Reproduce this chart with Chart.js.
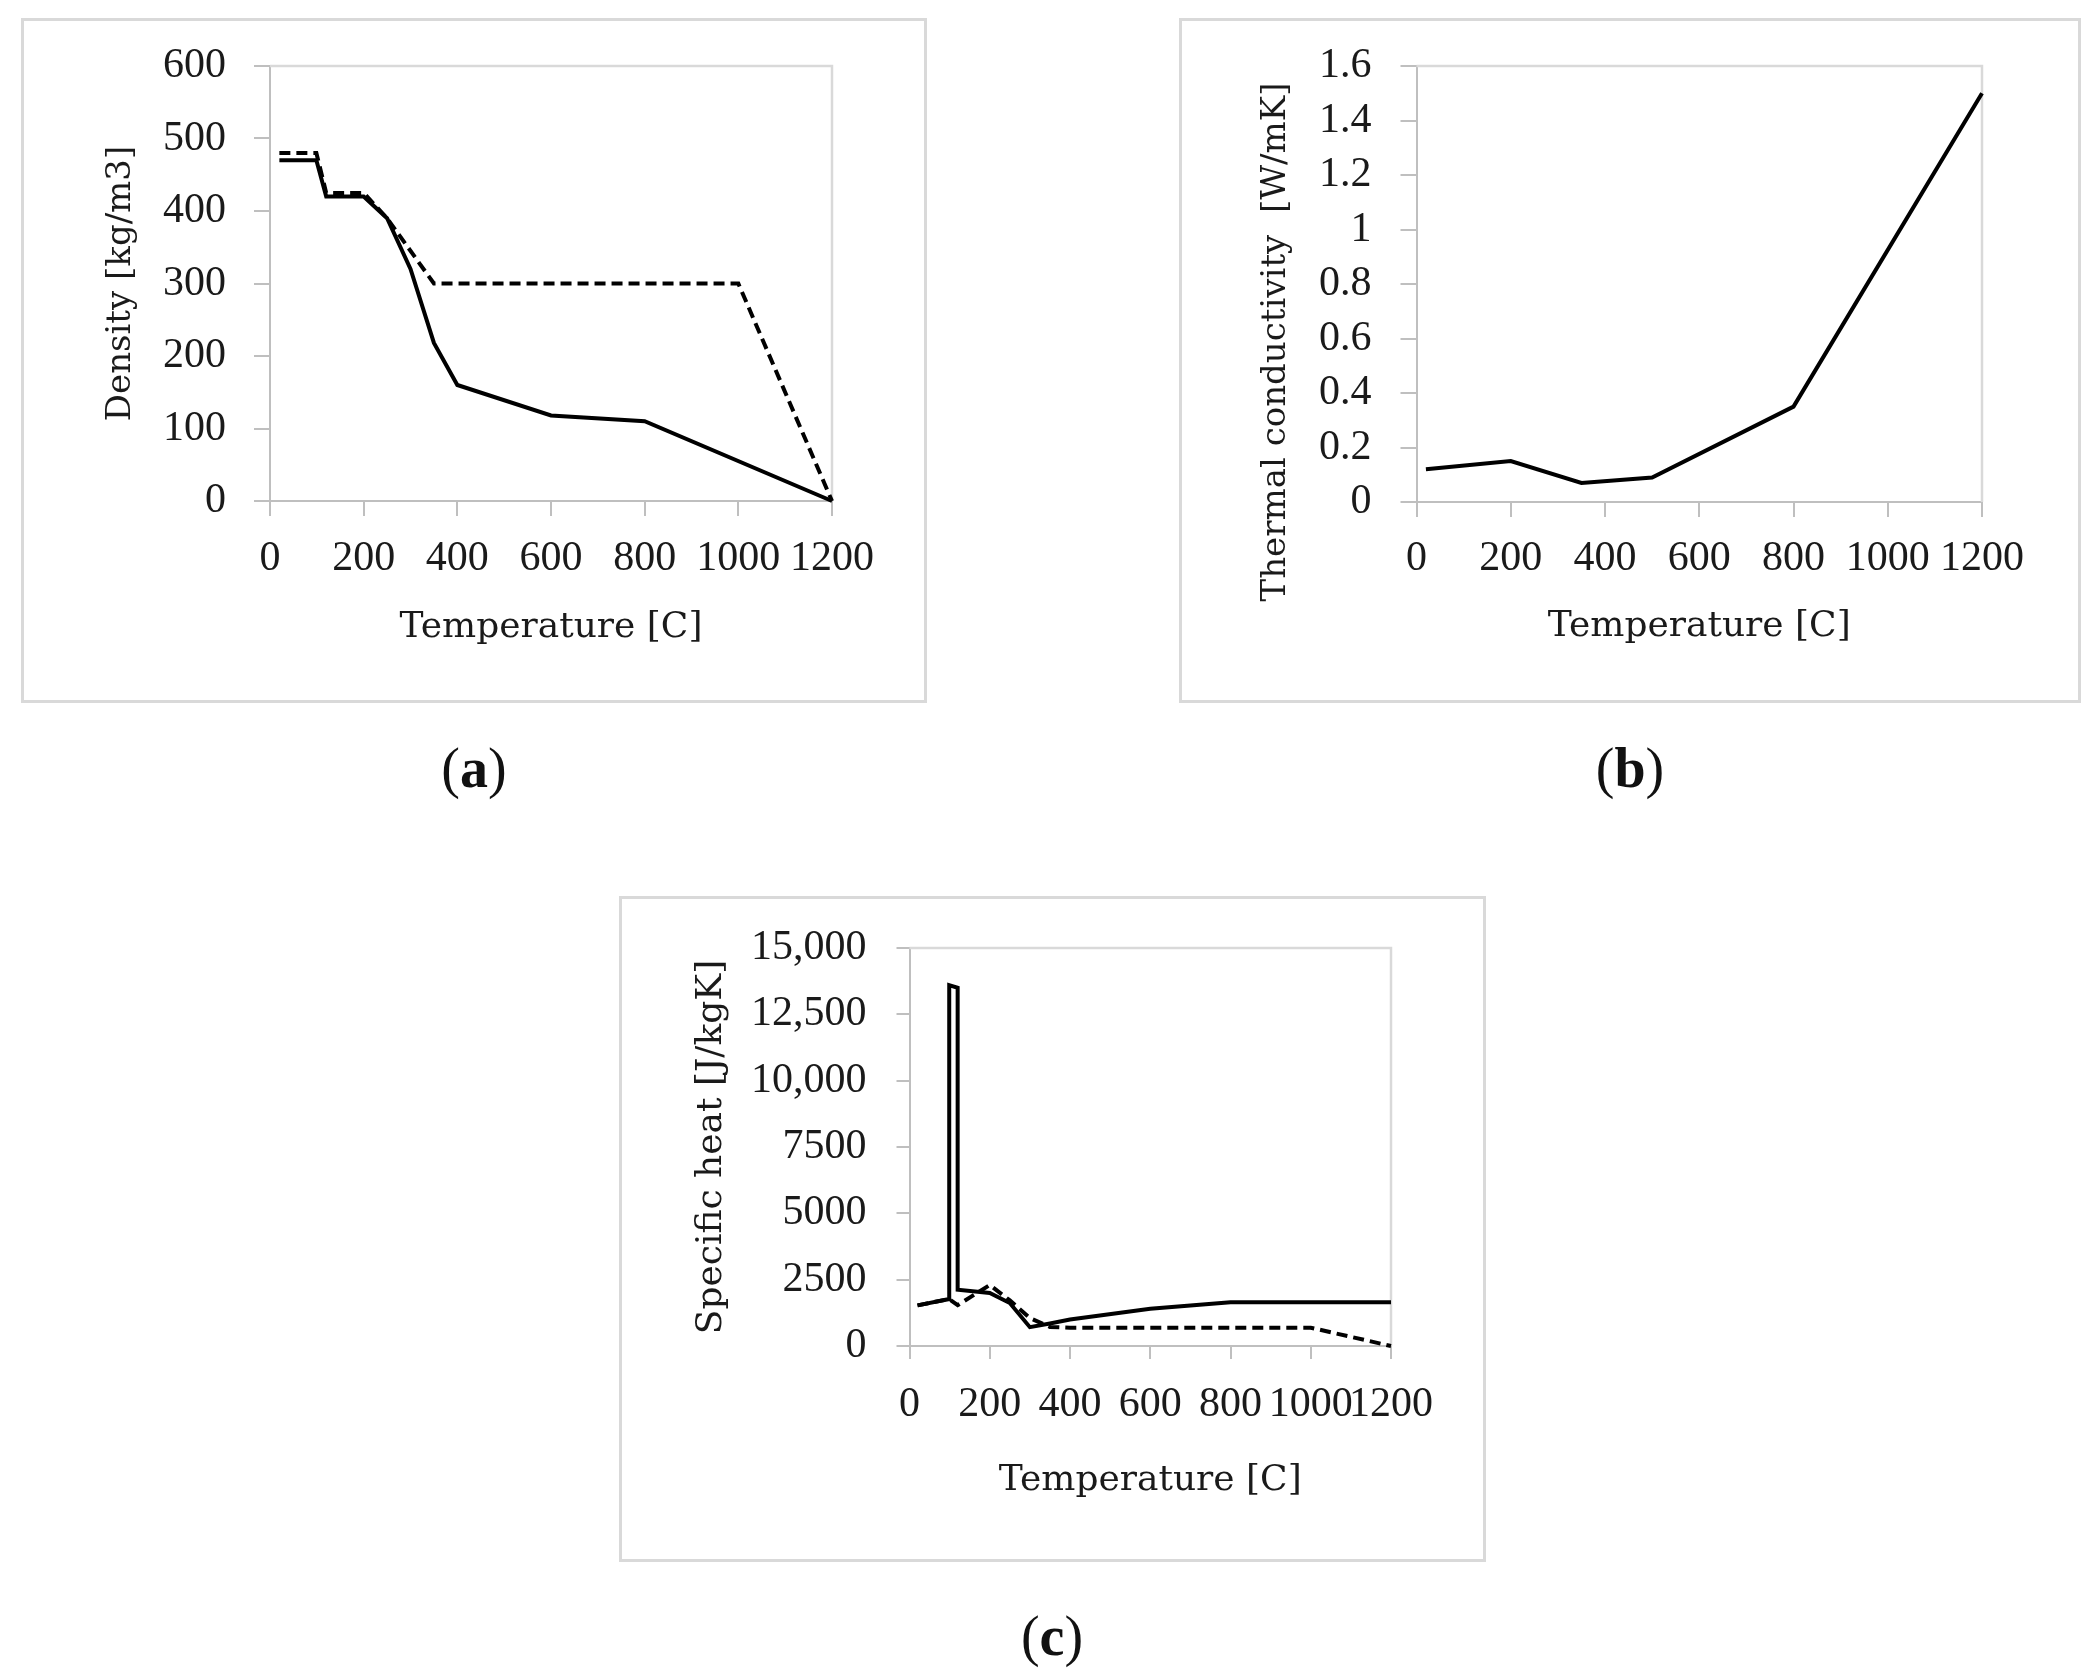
<!DOCTYPE html>
<html>
<head>
<meta charset="utf-8">
<script src="https://cdn.jsdelivr.net/npm/chart.js@4.4.1/dist/chart.umd.min.js"></script>
<style>
  html, body { margin: 0; padding: 0; background: #ffffff; }
  body { width: 2100px; height: 1670px; position: relative; overflow: hidden; }
  .box { position: absolute; box-sizing: border-box; border: 3px solid #d9d9d9; background: #fff; }
  .box canvas { display: block; }
  .lab { position: absolute; font-family: 'Liberation Serif', serif; font-size: 56px; color: #111; text-align: center; width: 200px; line-height: 1; }
</style>
</head>
<body>
<div class="box" style="left:21px; top:18px; width:906px; height:685px;"><canvas id="chA" width="900" height="679" style="width:900px;height:679px;"></canvas></div>
<div class="box" style="left:1179px; top:18px; width:902px; height:685px;"><canvas id="chB" width="896" height="679" style="width:896px;height:679px;"></canvas></div>
<div class="box" style="left:619px; top:896px; width:867px; height:666px;"><canvas id="chC" width="861" height="660" style="width:861px;height:660px;"></canvas></div>
<div class="lab" style="left:374px; top:740px;">(<b>a</b>)</div>
<div class="lab" style="left:1530px; top:740px;">(<b>b</b>)</div>
<div class="lab" style="left:952px; top:1608px;">(<b>c</b>)</div>
<script>
// ---- data ----
const xTickLabels = ['0', '200', '400', '600', '800', '1000', '1200'];

const tempA_solid = [20, 99, 120, 200, 250, 300, 350, 400, 600, 800, 1200];
const densA_solid = [470, 470, 420, 420, 390, 320, 218, 160, 118, 110, 0];
const tempA_dash  = [20, 99, 120, 200, 250, 350, 1000, 1200];
const densA_dash  = [480, 480, 425, 425, 390, 300, 300, 0];
const yTicksA = ['0', '100', '200', '300', '400', '500', '600'];

const tempB = [20, 200, 350, 500, 800, 1200];
const condB = [0.12, 0.15, 0.07, 0.09, 0.35, 1.5];
const yTicksB = ['0', '0.2', '0.4', '0.6', '0.8', '1', '1.2', '1.4', '1.6'];

const tempC_solid = [20, 99, 99, 120, 120, 200, 250, 300, 350, 400, 600, 800, 1200];
const heatC_solid = [1530, 1770, 13600, 13500, 2120, 2000, 1620, 710, 850, 1000, 1400, 1650, 1650];
const tempC_dash  = [20, 99, 120, 200, 250, 300, 350, 400, 1000, 1200];
const heatC_dash  = [1530, 1770, 1540, 2300, 1720, 1050, 720, 690, 690, 0];
const yTicksC = ['0', '2500', '5000', '7500', '10,000', '12,500', '15,000'];

const titleX = 'Temperature [C]';
const titleA = 'Density [kg/m3]';
const titleB = 'Thermal conductivity  [W/mK]';
const titleC = 'Specific heat [J/kgK]';

// ---- helpers ----
const pts = (xs, ys) => xs.map((x, i) => ({ x: x, y: ys[i] }));
const TXT = '#1a1a1a';
const AX = '#bfbfbf';
const TICKFONT = { family: 'Liberation Serif', size: 42 };

const frame = {
  id: 'frame',
  beforeDatasetsDraw(chart) {
    const a = chart.chartArea, c = chart.ctx;
    c.save();
    c.strokeStyle = '#d9d9d9';
    c.lineWidth = 2.5;
    c.beginPath();
    c.moveTo(a.left, a.top);
    c.lineTo(a.right, a.top);
    c.lineTo(a.right, a.bottom);
    c.stroke();
    c.restore();
  }
};

const sideTitle = {
  id: 'sideTitle',
  afterDraw(chart, args, opts) {
    if (!opts || !opts.text) return;
    const c = chart.ctx;
    c.save();
    c.translate(opts.x, opts.y);
    c.rotate(-Math.PI / 2);
    c.font = opts.size + 'px "DejaVu Serif"';
    c.fillStyle = TXT;
    c.textAlign = 'center';
    c.textBaseline = 'middle';
    c.fillText(opts.text, 0, 0);
    c.restore();
  }
};

function makeChart(id, cfg) {
  const datasets = cfg.series.map(s => ({
    data: s.data,
    borderColor: '#000',
    borderWidth: 4,
    borderDash: s.dash ? [11, 6] : [],
    pointRadius: 0,
    tension: 0,
    fill: false,
    clip: false
  }));
  return new Chart(document.getElementById(id), {
    type: 'line',
    data: { datasets: datasets },
    plugins: [frame, sideTitle],
    options: {
      responsive: false,
      animation: false,
      devicePixelRatio: 1,
      layout: { autoPadding: false, padding: cfg.pad },
      plugins: {
        legend: { display: false },
        tooltip: { enabled: false },
        sideTitle: cfg.sideTitle || {}
      },
      scales: {
        x: {
          type: 'linear', min: 0, max: 1200,
          ticks: {
            stepSize: 200, autoSkip: false, maxRotation: 0, minRotation: 0,
            font: TICKFONT, color: TXT, padding: cfg.xPad,
            callback: (v, i) => xTickLabels[i]
          },
          grid: { display: true, drawOnChartArea: false, drawTicks: true, tickLength: cfg.xTick, color: AX, lineWidth: 2 },
          border: { display: true, color: AX, width: 2 },
          title: { display: true, text: titleX, color: TXT, font: { family: 'DejaVu Serif', size: 36 }, padding: { top: 0, bottom: cfg.xTitlePad } },
          afterFit: s => { s.height = cfg.xH; s.paddingLeft = 0; s.paddingRight = 0; }
        },
        y: {
          type: 'linear', min: 0, max: cfg.yMax,
          ticks: {
            stepSize: cfg.yStep, autoSkip: false,
            font: TICKFONT, color: TXT, padding: cfg.yPad,
            callback: (v, i) => cfg.yLabels[i]
          },
          grid: { display: true, drawOnChartArea: false, drawTicks: true, tickLength: cfg.yTick, color: AX, lineWidth: 2 },
          border: { display: true, color: AX, width: 2 },
          title: cfg.yTitle
            ? { display: true, text: cfg.yTitle, color: TXT, font: { family: 'DejaVu Serif', size: cfg.yTitleSize }, padding: { top: cfg.yTitlePad, bottom: 0 } }
            : { display: false },
          afterFit: s => { s.width = cfg.yW; s.paddingTop = 0; s.paddingBottom = 0; }
        }
      }
    }
  });
}

makeChart('chA', {
  series: [
    { data: pts(tempA_dash, densA_dash), dash: true },
    { data: pts(tempA_solid, densA_solid), dash: false }
  ],
  pad: { left: 0, top: 45, right: 92, bottom: 0 },
  xH: 199, yW: 246,
  xTick: 15, xPad: 18, xTitlePad: 51,
  yTick: 16, yPad: 28,
  yMax: 600, yStep: 100, yLabels: yTicksA,
  yTitle: titleA, yTitleSize: 34, yTitlePad: 77
});

makeChart('chB', {
  series: [
    { data: pts(tempB, condB), dash: false }
  ],
  pad: { left: 0, top: 45, right: 96, bottom: 0 },
  xH: 198, yW: 234.5,
  xTick: 15, xPad: 17, xTitlePad: 52,
  yTick: 16, yPad: 29,
  yMax: 1.6, yStep: 0.2, yLabels: yTicksB,
  yTitle: null,
  sideTitle: { text: titleB, x: 94.5, y: 321, size: 34 }
});

makeChart('chC', {
  series: [
    { data: pts(tempC_dash, heatC_dash), dash: true },
    { data: pts(tempC_solid, heatC_solid), dash: false }
  ],
  pad: { left: 0, top: 49, right: 92, bottom: 0 },
  xH: 213, yW: 287.5,
  xTick: 13, xPad: 21, xTitlePad: 57,
  yTick: 13, yPad: 30,
  yMax: 15000, yStep: 2500, yLabels: yTicksC,
  yTitle: titleC, yTitleSize: 36, yTitlePad: 68
});
</script>
</body>
</html>
